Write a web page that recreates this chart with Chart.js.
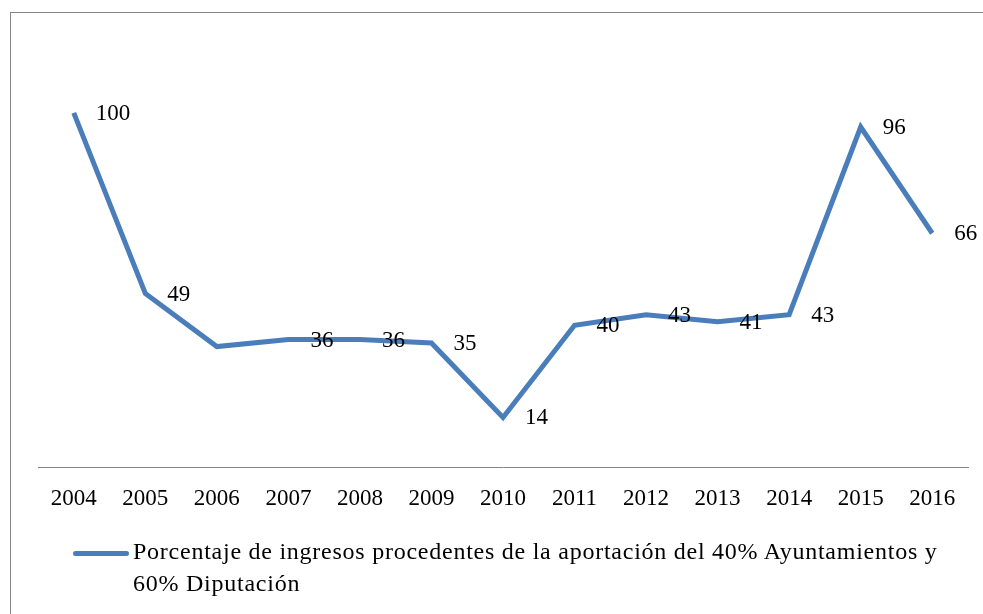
<!DOCTYPE html>
<html lang="es">
<head>
<meta charset="UTF-8" />
<title>Porcentaje de ingresos</title>
<script src="https://cdn.jsdelivr.net/npm/chart.js"></script>
<style>
  html, body { margin: 0; padding: 0; background: #fff; overflow: hidden; }
  #wrap { position: relative; width: 983px; height: 614px; }
  #frame {
    position: absolute; left: 10px; top: 12px; width: 1000px; height: 700px;
    border: 1px solid #868686; box-sizing: border-box;
  }
  #legend {
    position: absolute; left: 73px; top: 535px; width: 900px;
    font-family: 'Liberation Serif', serif; font-size: 24px; line-height: 32px;
    letter-spacing: 0.75px; color: #000;
  }
  #legend .swatch {
    position: absolute; left: 0; top: 16px; width: 56px; height: 5px;
    background: #4a7ebb; border-radius: 3px;
  }
  #legend .txt { padding-left: 60px; }
</style>
</head>
<body>
<div id="wrap">
  <div id="frame"></div>
  <canvas id="myChart" width="983" height="614"></canvas>
  <div id="legend"><span class="swatch"></span><div class="txt">Porcentaje de ingresos procedentes de la aportación del 40% Ayuntamientos y<br>60% Diputación</div></div>
</div>
<script>
  const years = ['2004', '2005', '2006', '2007', '2008', '2009', '2010', '2011', '2012', '2013', '2014', '2015', '2016'];
  const values = [100, 49, 34, 36, 36, 35, 14, 40, 43, 41, 43, 96, 66];
  const pointLabels = ['100', '49', '', '36', '36', '35', '14', '40', '43', '41', '43', '96', '66'];
  const seriesName = 'Porcentaje de ingresos procedentes de la aportación del 40% Ayuntamientos y 60% Diputación';

  const rightLabels = {
    id: 'rightLabels',
    afterDatasetsDraw(chart) {
      const ctx = chart.ctx;
      const meta = chart.getDatasetMeta(0);
      ctx.save();
      ctx.font = '23px "Liberation Serif", serif';
      ctx.fillStyle = '#000';
      ctx.textAlign = 'left';
      ctx.textBaseline = 'middle';
      meta.data.forEach((pt, i) => {
        if (pointLabels[i]) ctx.fillText(pointLabels[i], pt.x + 22, pt.y + 1);
      });
      ctx.restore();
    }
  };

  const config = {
    type: 'line',
    data: {
      labels: years,
      datasets: [{
        label: seriesName,
        data: values,
        borderColor: '#4a7ebb',
        borderWidth: 5,
        pointRadius: 0,
        tension: 0,
        borderJoinStyle: 'miter'
      }]
    },
    options: {
      responsive: false,
      animation: false,
      layout: { padding: { left: 38, right: 15, top: 42, bottom: 107 } },
      plugins: { legend: { display: false }, tooltip: { enabled: false } },
      scales: {
        y: { display: false, min: 0, max: 120 },
        x: {
          offset: true,
          grid: { display: false, drawTicks: false },
          border: { display: true, color: '#868686', width: 1 },
          ticks: {
            color: '#000',
            padding: 18,
            maxRotation: 0,
            font: { family: 'Liberation Serif', size: 23 }
          },
          afterFit(scale) { scale.height = 40; }
        }
      }
    },
    plugins: [rightLabels]
  };

  const myChart = new Chart(document.getElementById('myChart'), config);
</script>
</body>
</html>
